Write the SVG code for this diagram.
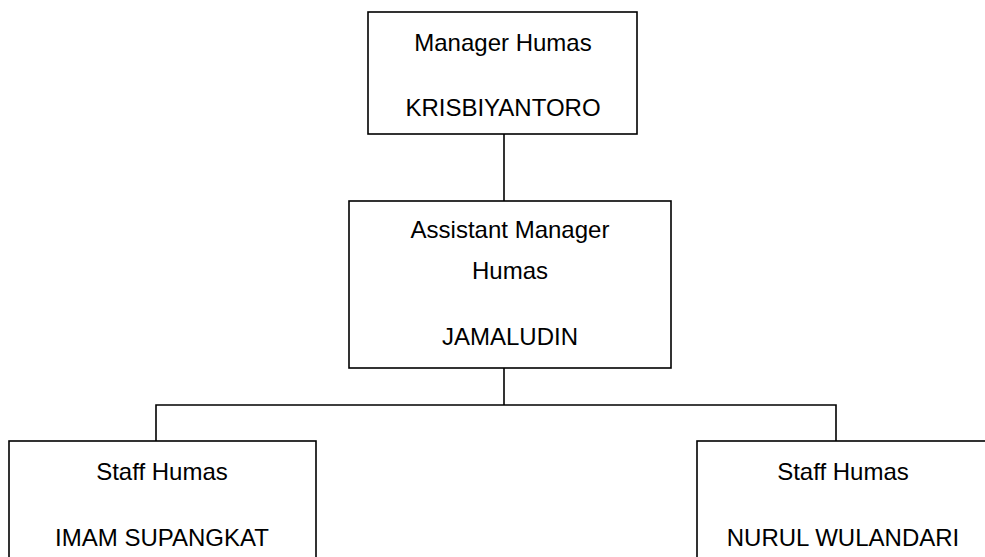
<svg xmlns="http://www.w3.org/2000/svg" width="985" height="557" viewBox="0 0 985 557">
<style>
.box{fill:#fff;stroke:#000;stroke-width:1.6}
.ln{fill:none;stroke:#000;stroke-width:1.6}
text{font-family:"Liberation Sans",Arial,sans-serif;font-size:24px;fill:#000;text-anchor:middle}
</style>
<rect width="985" height="557" fill="#fff"/>
<g id="connectors">
<line class="ln" x1="504" y1="134" x2="504" y2="201"/>
<line class="ln" x1="504" y1="368" x2="504" y2="405"/>
<polyline class="ln" points="156,441 156,405 836,405 836,441"/>
</g>
<g id="manager">
<rect class="box" x="368" y="12" width="269" height="122"/>
<text x="503" y="51">Manager Humas</text>
<text x="503" y="116">KRISBIYANTORO</text>
</g>
<g id="assistant">
<rect class="box" x="349" y="201" width="322" height="167"/>
<text x="510" y="238">Assistant Manager</text>
<text x="510" y="279">Humas</text>
<text x="510" y="345">JAMALUDIN</text>
</g>
<g id="staff1">
<rect class="box" x="9" y="441" width="307" height="140"/>
<text x="162" y="480">Staff Humas</text>
<text x="162" y="546">IMAM SUPANGKAT</text>
</g>
<g id="staff2">
<rect class="box" x="697" y="441" width="292" height="140"/>
<text x="843" y="480">Staff Humas</text>
<text x="843" y="546">NURUL WULANDARI</text>
</g>
</svg>
